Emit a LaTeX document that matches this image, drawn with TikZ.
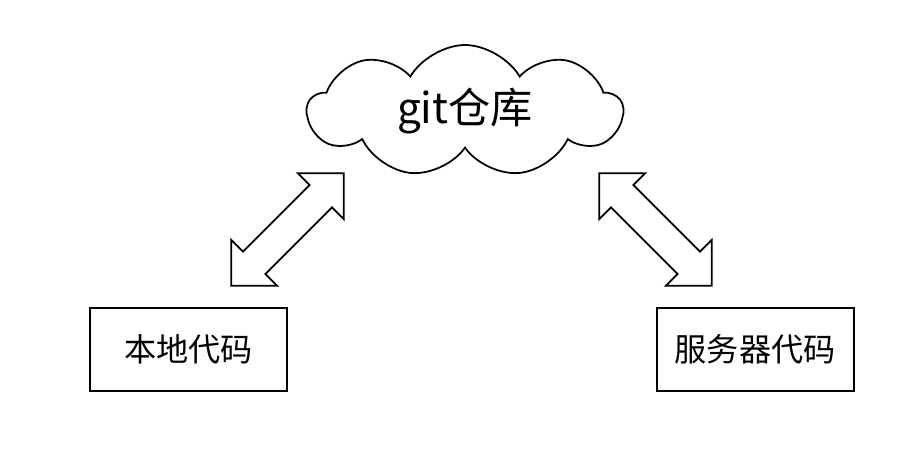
\documentclass[tikz,border=0pt]{standalone}
\usepackage{fontspec}
\newfontfamily\cjk{Noto Sans CJK SC}
\usepackage{tikz}
\usetikzlibrary{positioning,shapes.symbols,shapes.arrows}

\begin{document}
\begin{tikzpicture}[x=0.02cm,y=-0.02cm]
\tikzstyle{codebox}=[draw=black,line width=1pt,minimum width=3.94cm,minimum height=1.66cm,inner sep=0pt,font=\cjk\fontsize{18.3}{22}\selectfont]
\tikzstyle{repo}=[draw=black,line width=1pt,cloud,cloud puffs=9,cloud puff arc=120,aspect=2.4,minimum width=6.3cm,minimum height=2.64cm,font=\cjk\fontsize{24}{29}\selectfont]
\tikzstyle{dblarrow}=[draw=black,line width=1pt,double arrow,double arrow tip angle=90,double arrow head extend=0.33cm,minimum height=3.18cm,inner xsep=0pt,inner ysep=0.3cm]
\useasboundingbox (0,0) rectangle (898,449);
\node [repo] at (465,111) (git) {git仓库};
\node [codebox] at (188.5,349.5) (local) {本地代码};
\node [codebox,right=7.36cm of local] (server) {服务器代码};
\node [dblarrow,rotate=45] at (287.5,229.5) (pull) {};
\node [dblarrow,rotate=-45] at (655.5,229.5) (push) {};
\end{tikzpicture}
\end{document}
